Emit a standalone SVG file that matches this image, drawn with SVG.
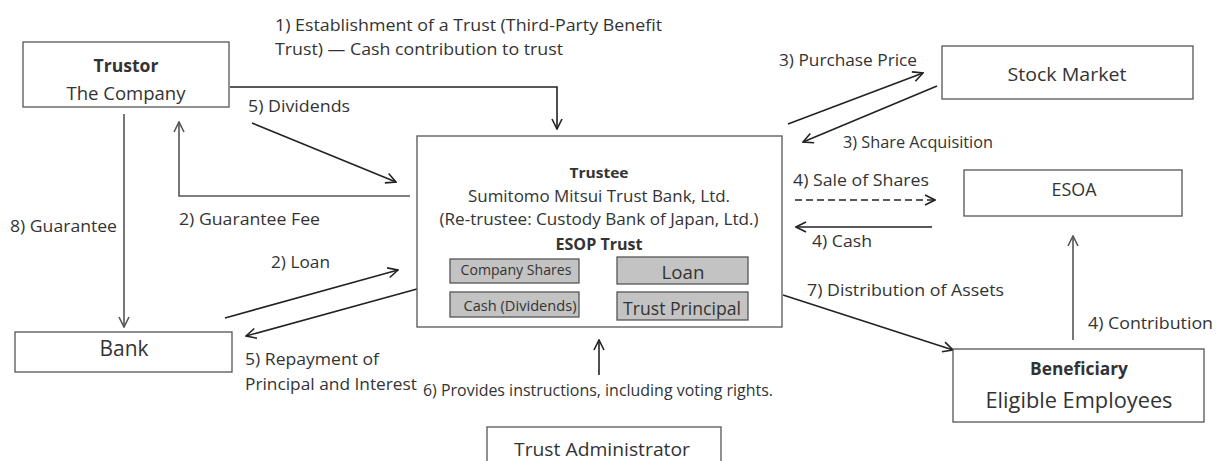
<svg xmlns="http://www.w3.org/2000/svg" width="1216" height="461" viewBox="0 0 1216 461">
<defs>
<marker id="ah" viewBox="0 0 12 12" refX="11" refY="6" markerWidth="12" markerHeight="12" markerUnits="userSpaceOnUse" orient="auto">
<path d="M1,1 L11,6 L1,11" fill="none" stroke="#222" stroke-width="1.6"/>
</marker>
<marker id="ahg" viewBox="0 0 12 12" refX="11" refY="6" markerWidth="12" markerHeight="12" markerUnits="userSpaceOnUse" orient="auto">
<path d="M1,1 L11,6 L1,11" fill="none" stroke="#555" stroke-width="1.6"/>
</marker>
</defs>
<style>
text{font-family:"Open Sans","Liberation Sans",Arial,sans-serif;fill:#333;}
.lbl{font-size:16px;}
.c{text-anchor:middle;}
.b{font-weight:bold;}
.box{fill:#fff;stroke:#555;stroke-width:1.3;}
.inner{fill:#c3c3c3;stroke:#555;stroke-width:1.3;}
.ln{fill:none;stroke:#222;stroke-width:1.6;marker-end:url(#ah);}
.lg{fill:none;stroke:#555;stroke-width:1.6;marker-end:url(#ahg);}
</style>
<rect width="1216" height="461" fill="#fff"/>
<g id="connectors">
<path class="ln" d="M230,87 L557,87 L557,129"/>
<path class="ln" d="M252,123 L396,182"/>
<path class="lg" d="M410,196 L179,196 L179,122"/>
<path class="lg" d="M124,114 L124,327"/>
<path class="ln" d="M225,318 L398,270"/>
<path class="ln" d="M417,289 L246,336"/>
<path class="ln" d="M788,124 L923,73"/>
<path class="ln" d="M937,86 L803,142"/>
<path class="ln" d="M795,200 L935,200" stroke-dasharray="7,4"/>
<path class="ln" d="M932,227 L796,227"/>
<path class="ln" d="M783,295 L953,350"/>
<path class="lg" d="M1073,340 L1073,236"/>
<path class="ln" d="M599,375 L599,340"/>
</g>
<g id="labels">
<text class="lbl" x="275" y="31" textLength="387" lengthAdjust="spacingAndGlyphs">1) Establishment of a Trust (Third-Party Benefit</text>
<text class="lbl" x="275" y="55" textLength="288" lengthAdjust="spacingAndGlyphs">Trust) — Cash contribution to trust</text>
<text class="lbl" x="248" y="112" textLength="102" lengthAdjust="spacingAndGlyphs">5) Dividends</text>
<text class="lbl" x="179" y="225" textLength="141" lengthAdjust="spacingAndGlyphs">2) Guarantee Fee</text>
<text class="lbl" x="10" y="232" textLength="107" lengthAdjust="spacingAndGlyphs">8) Guarantee</text>
<text class="lbl" x="271" y="268" textLength="59" lengthAdjust="spacingAndGlyphs">2) Loan</text>
<text class="lbl" x="245" y="365" textLength="134" lengthAdjust="spacingAndGlyphs">5) Repayment of</text>
<text class="lbl" x="245" y="390" textLength="172" lengthAdjust="spacingAndGlyphs">Principal and Interest</text>
<text class="lbl" x="779" y="66" textLength="138" lengthAdjust="spacingAndGlyphs">3) Purchase Price</text>
<text class="lbl" x="843" y="148" textLength="150" lengthAdjust="spacingAndGlyphs">3) Share Acquisition</text>
<text class="lbl" x="793" y="186" textLength="136" lengthAdjust="spacingAndGlyphs">4) Sale of Shares</text>
<text class="lbl" x="812" y="247" textLength="60" lengthAdjust="spacingAndGlyphs">4) Cash</text>
<text class="lbl" x="807" y="296" textLength="197" lengthAdjust="spacingAndGlyphs">7) Distribution of Assets</text>
<text class="lbl" x="1088" y="329" textLength="125" lengthAdjust="spacingAndGlyphs">4) Contribution</text>
<text class="lbl" x="423" y="396" textLength="350" lengthAdjust="spacingAndGlyphs">6) Provides instructions, including voting rights.</text>
</g>
<g id="trustor">
<rect class="box" x="23" y="42" width="206" height="65"/>
<text class="c b" x="126" y="72" font-size="17" textLength="65" lengthAdjust="spacingAndGlyphs">Trustor</text>
<text class="c" x="126" y="100" font-size="18" textLength="119" lengthAdjust="spacingAndGlyphs">The Company</text>
</g>
<g id="trustee">
<rect class="box" x="417" y="136" width="365" height="191"/>
<text class="c b" x="599" y="178" font-size="15" textLength="59" lengthAdjust="spacingAndGlyphs">Trustee</text>
<text class="c" x="599" y="202" font-size="17" textLength="262" lengthAdjust="spacingAndGlyphs">Sumitomo Mitsui Trust Bank, Ltd.</text>
<text class="c" x="599" y="225" font-size="17" textLength="319" lengthAdjust="spacingAndGlyphs">(Re-trustee: Custody Bank of Japan, Ltd.)</text>
<text class="c b" x="599" y="250" font-size="16" textLength="87" lengthAdjust="spacingAndGlyphs">ESOP Trust</text>
</g>
<g id="company-shares">
<rect class="inner" x="450" y="259" width="129" height="24"/>
<text class="c" x="516" y="275" font-size="14" textLength="111" lengthAdjust="spacingAndGlyphs">Company Shares</text>
</g>
<g id="cash-dividends">
<rect class="inner" x="450" y="292" width="129" height="25"/>
<text class="c" x="520" y="311" font-size="14" textLength="113" lengthAdjust="spacingAndGlyphs">Cash (Dividends)</text>
</g>
<g id="loan">
<rect class="inner" x="617" y="257" width="131" height="27"/>
<text class="c" x="683" y="279" font-size="19" textLength="43" lengthAdjust="spacingAndGlyphs">Loan</text>
</g>
<g id="trust-principal">
<rect class="inner" x="617" y="292" width="131" height="28"/>
<text class="c" x="682" y="315" font-size="19" textLength="118" lengthAdjust="spacingAndGlyphs">Trust Principal</text>
</g>
<g id="bank">
<rect class="box" x="15" y="332" width="217" height="40"/>
<text class="c" x="124" y="356" font-size="21" textLength="49" lengthAdjust="spacingAndGlyphs">Bank</text>
</g>
<g id="stock-market">
<rect class="box" x="942" y="46" width="251" height="53"/>
<text class="c" x="1067" y="81" font-size="18" textLength="119" lengthAdjust="spacingAndGlyphs">Stock Market</text>
</g>
<g id="esoa">
<rect class="box" x="964" y="170" width="218" height="46"/>
<text class="c" x="1074" y="196" font-size="18" textLength="45" lengthAdjust="spacingAndGlyphs">ESOA</text>
</g>
<g id="beneficiary">
<rect class="box" x="953" y="349" width="251" height="73"/>
<text class="c b" x="1079" y="375" font-size="17" textLength="98" lengthAdjust="spacingAndGlyphs">Beneficiary</text>
<text class="c" x="1079" y="408" font-size="22" textLength="187" lengthAdjust="spacingAndGlyphs">Eligible Employees</text>
</g>
<g id="trust-administrator">
<rect class="box" x="487" y="427" width="234" height="50"/>
<text class="c" x="602" y="456" font-size="18" textLength="176" lengthAdjust="spacingAndGlyphs">Trust Administrator</text>
</g>
</svg>
